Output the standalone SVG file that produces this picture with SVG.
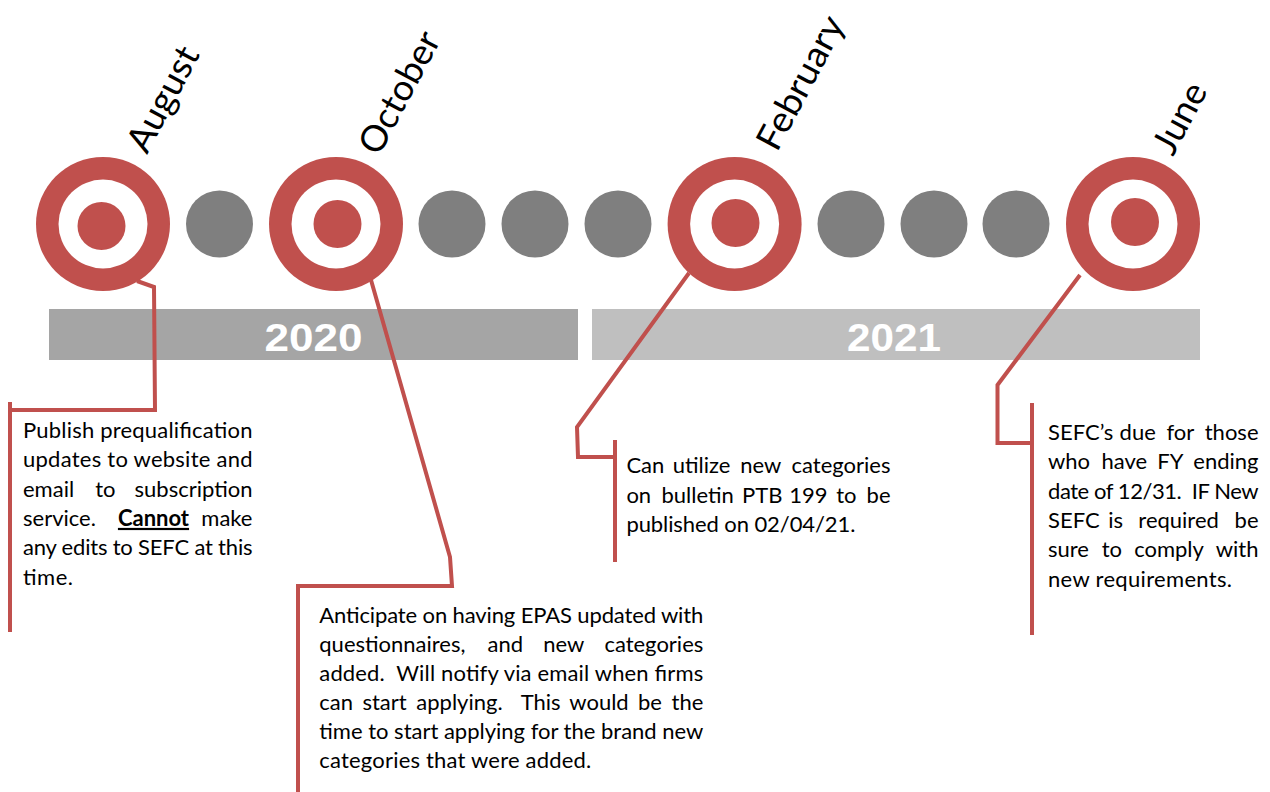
<svg xmlns="http://www.w3.org/2000/svg" width="1270" height="792" viewBox="0 0 1270 792">
<style>
.outer{fill:#c0504d}
.ring{fill:#ffffff}
.dot{fill:#c0504d}
.gray{fill:#7f7f7f}
.conn{fill:none;stroke:#c0504d;stroke-width:4;stroke-linejoin:miter}
.month{font-family:Lato,"Liberation Sans",sans-serif;font-size:36px;fill:#000}
.body{font-family:Lato,"Liberation Sans",sans-serif;font-size:22px;fill:#000;white-space:pre}
.m{text-anchor:middle}
.e{text-anchor:end}
.year{font-family:"Liberation Sans",Arial,sans-serif;font-weight:bold;font-size:39px;fill:#fff;text-anchor:middle}
</style>
<rect width="1270" height="792" fill="#fff"/>

<g id="bar-2020"><rect x="49" y="309" width="529" height="51" fill="#a5a5a5"/><text class="year" x="313.5" y="351" textLength="98" lengthAdjust="spacingAndGlyphs">2020</text></g>
<g id="bar-2021"><rect x="592" y="309" width="608" height="51" fill="#bfbfbf"/><text class="year" x="894" y="351" textLength="94" lengthAdjust="spacingAndGlyphs">2021</text></g>

<g id="connectors">
<polyline class="conn" points="137,281 154,287 155,410 10,410"/>
<line class="conn" x1="10" y1="402" x2="10" y2="632"/>
<polyline class="conn" points="371,280 450,557 452,586 298,586 298,792"/>
<polyline class="conn" points="689,273 577,427 578,457 615,457"/>
<line class="conn" x1="615" y1="440" x2="615" y2="562"/>
<polyline class="conn" points="1080,275 997.5,385 997.5,443 1032,443"/>
<line class="conn" x1="1032" y1="403" x2="1032" y2="635"/>
</g>

<g id="dots">
<circle class="gray" cx="219.5" cy="224" r="33.5"/>
<circle class="gray" cx="452" cy="224" r="33.5"/>
<circle class="gray" cx="535" cy="224" r="33.5"/>
<circle class="gray" cx="618" cy="224" r="33.5"/>
<circle class="gray" cx="851" cy="224" r="33.5"/>
<circle class="gray" cx="934" cy="224" r="33.5"/>
<circle class="gray" cx="1016" cy="224" r="33.5"/>
</g>

<g id="august">
<circle class="outer" cx="103" cy="224" r="67"/><circle class="ring" cx="103" cy="224" r="44.5"/><circle class="dot" cx="101.5" cy="226" r="24"/>
<text class="month" transform="translate(147,155) rotate(-62)" textLength="114" lengthAdjust="spacingAndGlyphs">August</text>
</g>
<g id="october">
<circle class="outer" cx="336" cy="224" r="67"/><circle class="ring" cx="336" cy="224" r="44.5"/><circle class="dot" cx="337.5" cy="224" r="24"/>
<text class="month" transform="translate(379,157) rotate(-62)" textLength="133" lengthAdjust="spacingAndGlyphs">October</text>
</g>
<g id="february">
<circle class="outer" cx="734.6" cy="224" r="67"/><circle class="ring" cx="734.6" cy="224" r="44.5"/><circle class="dot" cx="735.5" cy="223" r="24"/>
<text class="month" transform="translate(777,153) rotate(-62)" textLength="146" lengthAdjust="spacingAndGlyphs">February</text>
</g>
<g id="june">
<circle class="outer" cx="1133" cy="224" r="67"/><circle class="ring" cx="1133" cy="224" r="44.5"/><circle class="dot" cx="1135" cy="222" r="24"/>
<text class="month" transform="translate(1173,157) rotate(-62)" textLength="75" lengthAdjust="spacingAndGlyphs">June</text>
</g>

<g id="text-august">
<text class="body" x="23" y="438" textLength="229.5" lengthAdjust="spacing">Publish prequalification</text>
<text class="body" x="23" y="467.3" textLength="229.5" lengthAdjust="spacing">updates to website and</text>
<text class="body" x="23" y="496.6">email</text><text class="body m" x="105.4" y="496.6">to</text><text class="body e" x="252.5" y="496.6">subscription</text>
<text class="body" x="23" y="525.9">service.</text><text class="body m" x="153.5" y="525.9" font-weight="bold" text-decoration="underline">Cannot</text><text class="body e" x="252.5" y="525.9">make</text>
<text class="body" x="23" y="555.2" textLength="229.5" lengthAdjust="spacing">any edits to SEFC at this</text>
<text class="body" x="23" y="584.5" textLength="50" lengthAdjust="spacing">time.</text>
</g>

<g id="text-october">
<text class="body" x="319.3" y="623.3" textLength="384" lengthAdjust="spacing">Anticipate on having EPAS updated with</text>
<text class="body" x="319.3" y="652.2">questionnaires,</text><text class="body m" x="505.3" y="652.2">and</text><text class="body m" x="563.8" y="652.2">new</text><text class="body e" x="703.3" y="652.2">categories</text>
<text class="body" x="319.3" y="681.1" textLength="384" lengthAdjust="spacing">added.  Will notify via email when firms</text>
<text class="body" x="319.3" y="710">can</text><text class="body m" x="384.5" y="710">start</text><text class="body m" x="459.5" y="710">applying.</text><text class="body m" x="540.7" y="710">This</text><text class="body m" x="599" y="710">would</text><text class="body m" x="650" y="710">be</text><text class="body e" x="703.3" y="710">the</text>
<text class="body" x="319.3" y="738.9" textLength="384" lengthAdjust="spacing">time to start applying for the brand new</text>
<text class="body" x="319.3" y="767.8" textLength="272" lengthAdjust="spacing">categories that were added.</text>
</g>

<g id="text-february">
<text class="body" x="626.4" y="473.3">Can</text><text class="body m" x="701.5" y="473.3">utilize</text><text class="body m" x="760.8" y="473.3">new</text><text class="body e" x="890.5" y="473.3">categories</text>
<text class="body" x="626.4" y="502.6">on</text><text class="body m" x="697.6" y="502.6">bulletin</text><text class="body m" x="762.2" y="502.6">PTB</text><text class="body m" x="808.3" y="502.6">199</text><text class="body m" x="846.3" y="502.6">to</text><text class="body e" x="890.5" y="502.6">be</text>
<text class="body" x="626.4" y="531.9" textLength="229" lengthAdjust="spacing">published on 02/04/21.</text>
</g>

<g id="text-june">
<text class="body" x="1048" y="440">SEFC’s</text><text class="body m" x="1137.7" y="440">due</text><text class="body m" x="1180.3" y="440">for</text><text class="body e" x="1258.5" y="440">those</text>
<text class="body" x="1048" y="469.3">who</text><text class="body m" x="1124.4" y="469.3">have</text><text class="body m" x="1170.3" y="469.3">FY</text><text class="body e" x="1258.5" y="469.3">ending</text>
<text class="body" x="1048" y="498.6" textLength="210.5" lengthAdjust="spacing">date of 12/31.  IF New</text>
<text class="body" x="1048" y="527.9">SEFC</text><text class="body m" x="1115.6" y="527.9">is</text><text class="body m" x="1178.6" y="527.9">required</text><text class="body e" x="1258.5" y="527.9">be</text>
<text class="body" x="1048" y="557.2">sure</text><text class="body m" x="1111.8" y="557.2">to</text><text class="body m" x="1169" y="557.2">comply</text><text class="body e" x="1258.5" y="557.2">with</text>
<text class="body" x="1048" y="586.5" textLength="184" lengthAdjust="spacing">new requirements.</text>
</g>
</svg>
